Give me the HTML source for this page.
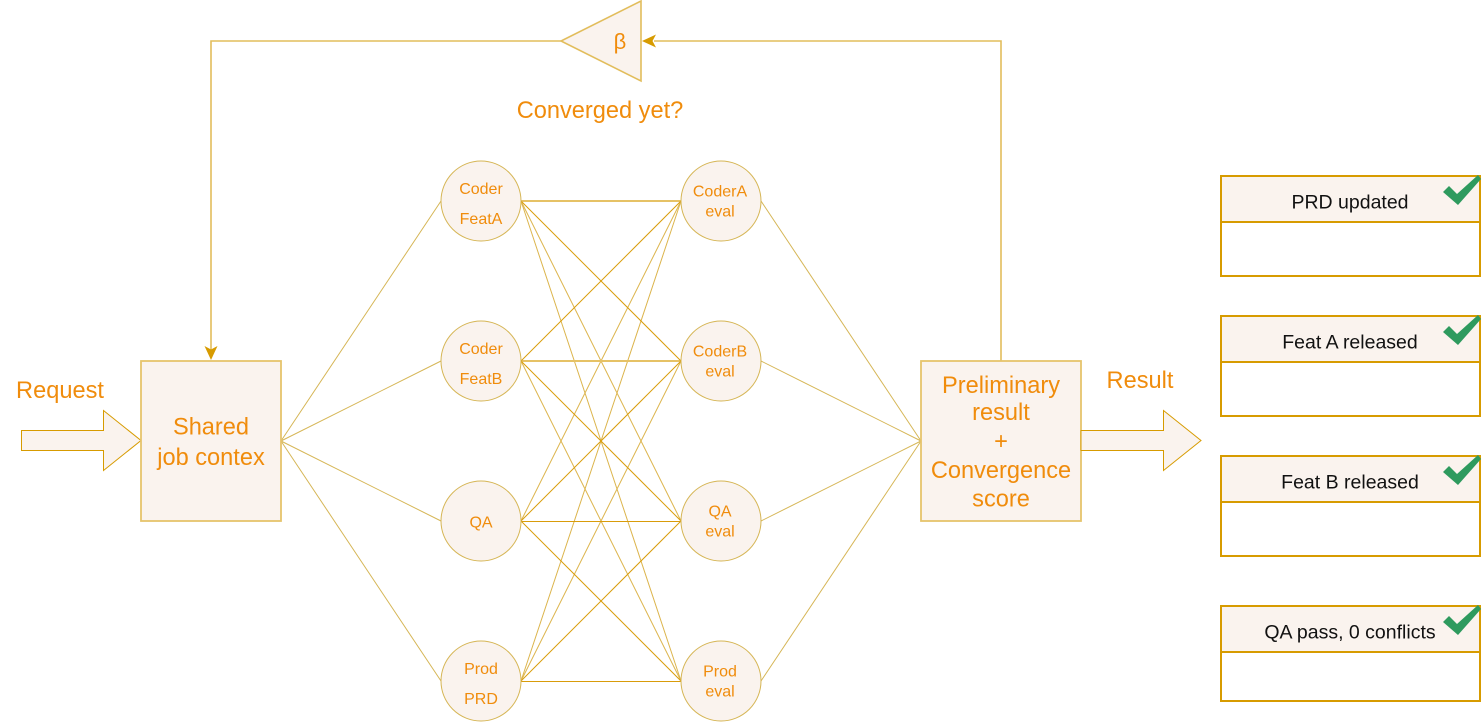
<!DOCTYPE html>
<html>
<head>
<meta charset="utf-8">
<style>
  html,body{margin:0;padding:0;background:#fff;}
  svg{display:block;}
  .o{font-family:"Liberation Sans",Arial,sans-serif;fill:#f08c0c;text-anchor:middle;}
  .b{font-family:"Liberation Sans",Arial,sans-serif;fill:#111;text-anchor:middle;}
</style>
</head>
<body>
<svg width="1482" height="722" viewBox="0 0 1482 722" xmlns="http://www.w3.org/2000/svg">
  <!-- feedback loop -->
  <polyline points="561,41 211,41 211,350" fill="none" stroke="#e2bd5c" stroke-width="1.6"/>
  <polygon points="211,360 204.5,346 211,349.5 217.5,346" fill="#d79b00"/>
  <polyline points="1001,361 1001,41 654,41" fill="none" stroke="#e2bd5c" stroke-width="1.6"/>
  <polygon points="642,41 656,34.5 652.5,41 656,47.5" fill="#d79b00"/>
  <polygon points="641,1 641,81 561,41" fill="#faf3ee" stroke="#e2bd5c" stroke-width="1.6"/>
  <text class="o" x="620" y="49" font-size="22">β</text>
  <text class="o" x="600" y="118" font-size="23.6">Converged yet?</text>

  <!-- request arrow -->
  <polygon points="21.5,430.5 103.5,430.5 103.5,410.5 141,440.5 103.5,470.5 103.5,450.5 21.5,450.5" fill="#faf3ee" stroke="#d79b00" stroke-width="1"/>
  <text class="o" x="60" y="398" font-size="23.6">Request</text>

  <!-- shared -> left circles -->
  <g stroke="#d6b656" stroke-width="1" fill="none">
    <line x1="281" y1="441" x2="441" y2="201"/>
    <line x1="281" y1="441" x2="441" y2="361"/>
    <line x1="281" y1="441" x2="441" y2="521"/>
    <line x1="281" y1="441" x2="441" y2="681"/>
    <line x1="761" y1="201" x2="921" y2="441"/>
    <line x1="761" y1="361" x2="921" y2="441"/>
    <line x1="761" y1="521" x2="921" y2="441"/>
    <line x1="761" y1="681" x2="921" y2="441"/>
  </g>

  <!-- mesh: light long lines -->
  <g stroke="#dcb44c" stroke-width="1" fill="none">
    <line x1="521" y1="201" x2="681" y2="521"/>
    <line x1="521" y1="201" x2="681" y2="681"/>
    <line x1="521" y1="361" x2="681" y2="681"/>
    <line x1="521" y1="521" x2="681" y2="201"/>
    <line x1="521" y1="681" x2="681" y2="201"/>
    <line x1="521" y1="681" x2="681" y2="361"/>
  </g>
  <g stroke="#e6c266" stroke-width="2" fill="none">
    <line x1="521" y1="201" x2="681" y2="201"/>
    <line x1="521" y1="361" x2="681" y2="361"/>
  </g>
  <!-- mesh: dark lines -->
  <g stroke="#d99c0a" stroke-width="1" fill="none">
    <line x1="521" y1="201" x2="681" y2="361"/>
    <line x1="521" y1="361" x2="681" y2="201"/>
    <line x1="521" y1="361" x2="681" y2="521"/>
    <line x1="521" y1="521" x2="681" y2="361"/>
    <line x1="521" y1="521" x2="681" y2="681"/>
    <line x1="521" y1="681" x2="681" y2="521"/>
    <line x1="521" y1="521.5" x2="681" y2="521.5"/>
    <line x1="521" y1="681.5" x2="681" y2="681.5"/>
  </g>

  <!-- shared box -->
  <rect x="141" y="361" width="140" height="160" fill="#faf3ee" stroke="#e6c46c" stroke-width="1.8"/>
  <text class="o" x="211" y="434.5" font-size="23.6">Shared</text>
  <text class="o" x="211" y="465" font-size="23.6">job contex</text>

  <!-- circles -->
  <g fill="#faf3ee" stroke="#d6b656" stroke-width="1">
    <circle cx="481" cy="201" r="40"/>
    <circle cx="481" cy="361" r="40"/>
    <circle cx="481" cy="521" r="40"/>
    <circle cx="481" cy="681" r="40"/>
    <circle cx="721" cy="201" r="40"/>
    <circle cx="721" cy="361" r="40"/>
    <circle cx="721" cy="521" r="40"/>
    <circle cx="721" cy="681" r="40"/>
  </g>
  <g font-size="16">
    <text class="o" x="481" y="194">Coder</text>
    <text class="o" x="481" y="224">FeatA</text>
    <text class="o" x="481" y="354">Coder</text>
    <text class="o" x="481" y="384">FeatB</text>
    <text class="o" x="481" y="527.5">QA</text>
    <text class="o" x="481" y="674">Prod</text>
    <text class="o" x="481" y="704">PRD</text>

    <text class="o" x="720" y="196.5">CoderA</text>
    <text class="o" x="720" y="216.5">eval</text>
    <text class="o" x="720" y="356.5">CoderB</text>
    <text class="o" x="720" y="376.5">eval</text>
    <text class="o" x="720" y="516.5">QA</text>
    <text class="o" x="720" y="536.5">eval</text>
    <text class="o" x="720" y="676.5">Prod</text>
    <text class="o" x="720" y="696.5">eval</text>
  </g>

  <!-- preliminary box -->
  <rect x="921" y="361" width="160" height="160" fill="#faf3ee" stroke="#e6c46c" stroke-width="1.8"/>
  <g font-size="23.6">
    <text class="o" x="1001" y="393">Preliminary</text>
    <text class="o" x="1001" y="420">result</text>
    <text class="o" x="1001" y="449">+</text>
    <text class="o" x="1001" y="478">Convergence</text>
    <text class="o" x="1001" y="506.5">score</text>
  </g>

  <!-- result arrow -->
  <polygon points="1081,430.5 1163.5,430.5 1163.5,410.5 1201,440.5 1163.5,470.5 1163.5,450.5 1081,450.5" fill="#faf3ee" stroke="#d79b00" stroke-width="1"/>
  <text class="o" x="1140" y="388" font-size="23.6">Result</text>

  <!-- right boxes -->
  <g stroke="#d79b00" stroke-width="2">
    <rect x="1221" y="176" width="259" height="100" fill="#fff"/>
    <rect x="1221" y="176" width="259" height="46" fill="#faf3ee"/>
    <rect x="1221" y="316" width="259" height="100" fill="#fff"/>
    <rect x="1221" y="316" width="259" height="46" fill="#faf3ee"/>
    <rect x="1221" y="456" width="259" height="100" fill="#fff"/>
    <rect x="1221" y="456" width="259" height="46" fill="#faf3ee"/>
    <rect x="1221" y="606" width="259" height="95" fill="#fff"/>
    <rect x="1221" y="606" width="259" height="46" fill="#faf3ee"/>
  </g>
  <g font-size="19.5">
    <text class="b" x="1350" y="208.5">PRD updated</text>
    <text class="b" x="1350" y="348.5">Feat A released</text>
    <text class="b" x="1350" y="488.5">Feat B released</text>
    <text class="b" x="1350" y="638.5">QA pass, 0 conflicts</text>
  </g>
  <g fill="#2e9a5e">
    <polygon points="1443,192 1449,186 1457,194 1478,175 1481,179 1458,205"/>
    <polygon points="1443,332 1449,326 1457,334 1478,315 1481,319 1458,345"/>
    <polygon points="1443,472 1449,466 1457,474 1478,455 1481,459 1458,485"/>
    <polygon points="1443,622 1449,616 1457,624 1478,605 1481,609 1458,635"/>
  </g>
</svg>
</body>
</html>
